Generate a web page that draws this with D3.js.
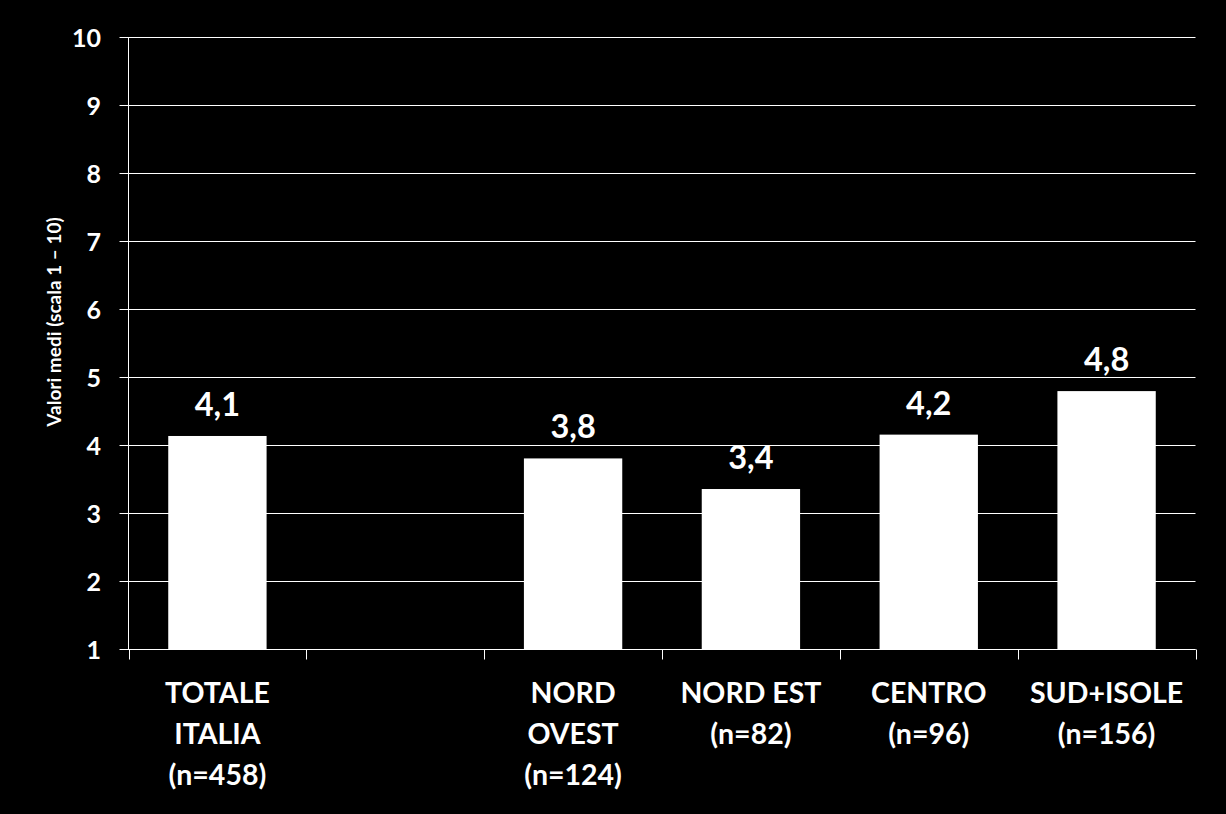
<!DOCTYPE html>
<html>
<head>
<meta charset="utf-8">
<script src="https://cdn.jsdelivr.net/npm/d3@7"></script>
<style>
  html, body { margin: 0; padding: 0; background: #000; }
  svg { display: block; }
  text { font-family: Lato, "Open Sans", "DejaVu Sans", sans-serif; fill: #fff; }
</style>
</head>
<body>
<svg id="chart" width="1226" height="814"></svg>
<script>
(function () {
// ---- data ----
const categories = ["TOTALE ITALIA", "", "NORD OVEST", "NORD EST", "CENTRO", "SUD+ISOLE"];
const categoryLines = [
  ["TOTALE", "ITALIA", "(n=458)"],
  [],
  ["NORD", "OVEST", "(n=124)"],
  ["NORD EST", "(n=82)"],
  ["CENTRO", "(n=96)"],
  ["SUD+ISOLE", "(n=156)"]
];
const values = [4.14, null, 3.81, 3.36, 4.16, 4.80];
const yTicks = [1, 2, 3, 4, 5, 6, 7, 8, 9, 10];
const yTitle = "Valori medi (scala 1 \u2013 10)";

// ---- layout ----
const svg = d3.select("#chart");
const mLeft = 128.5, mRight = 1195.5, mTop = 37.5, mBottom = 649.5;

const x = d3.scaleBand()
  .domain(d3.range(categories.length))
  .range([mLeft, mRight])
  .paddingInner(0.447)
  .paddingOuter(0.2235);
const step = x.step();

const y = d3.scaleLinear().domain([1, 10]).range([mBottom, mTop]);

// gridlines
svg.append("g")
  .selectAll("line")
  .data(yTicks)
  .join("line")
  .attr("x1", mLeft - 9)
  .attr("x2", mRight)
  .attr("y1", d => y(d))
  .attr("y2", d => y(d))
  .attr("stroke", "#fff")
  .attr("stroke-width", 1);

// y axis line
svg.append("line")
  .attr("x1", mLeft).attr("x2", mLeft)
  .attr("y1", mTop).attr("y2", mBottom)
  .attr("stroke", "#fff").attr("stroke-width", 1);

// x axis ticks (category boundaries)
const boundaries = d3.range(categories.length + 1).map(i => mLeft + i * step);
svg.append("g")
  .selectAll("line")
  .data(boundaries)
  .join("line")
  .attr("x1", d => Math.round(d) + 0.5)
  .attr("x2", d => Math.round(d) + 0.5)
  .attr("y1", mBottom)
  .attr("y2", mBottom + 10)
  .attr("stroke", "#fff").attr("stroke-width", 1);

// y tick labels
svg.append("g")
  .selectAll("text")
  .data(yTicks)
  .join("text")
  .attr("x", 101)
  .attr("y", d => y(d) + 9)
  .attr("text-anchor", "end")
  .attr("font-size", 25)
  .attr("font-weight", 700)
  .text(d => d);

// bars
const barData = values.map((v, i) => ({ i, v })).filter(d => d.v != null);
svg.append("g")
  .selectAll("rect")
  .data(barData)
  .join("rect")
  .attr("x", d => x(d.i))
  .attr("width", x.bandwidth())
  .attr("y", d => y(d.v))
  .attr("height", d => y(1) - y(d.v))
  .attr("fill", "#fff");

// x axis line on top of bars
svg.append("line")
  .attr("x1", mLeft).attr("x2", mRight)
  .attr("y1", mBottom).attr("y2", mBottom)
  .attr("stroke", "#fff").attr("stroke-width", 1);

// value labels
const fmt = v => d3.format(".1f")(v).replace(".", ",");
svg.append("g")
  .selectAll("text")
  .data(barData)
  .join("text")
  .attr("x", d => x(d.i) + x.bandwidth() / 2)
  .attr("y", d => y(d.v) - 20)
  .attr("text-anchor", "middle")
  .attr("font-size", 32.5)
  .attr("font-weight", 700)
  .text(d => fmt(d.v));

// category labels
const catG = svg.append("g")
  .selectAll("text")
  .data(categoryLines.map((lines, i) => ({ lines, i })))
  .join("text")
  .attr("text-anchor", "middle")
  .attr("font-size", 28.5)
  .attr("font-weight", 700);
catG.selectAll("tspan")
  .data(d => d.lines.map(t => ({ t, i: d.i })))
  .join("tspan")
  .attr("x", d => x(d.i) + x.bandwidth() / 2)
  .attr("y", (d, k) => 703 + k * 41)
  .text(d => d.t);

// y axis title
svg.append("text")
  .attr("transform", "translate(61,322) rotate(-90)")
  .attr("text-anchor", "middle")
  .attr("font-size", 19)
  .attr("font-weight", 700)
  .text(yTitle);
})();
</script>
</body>
</html>
